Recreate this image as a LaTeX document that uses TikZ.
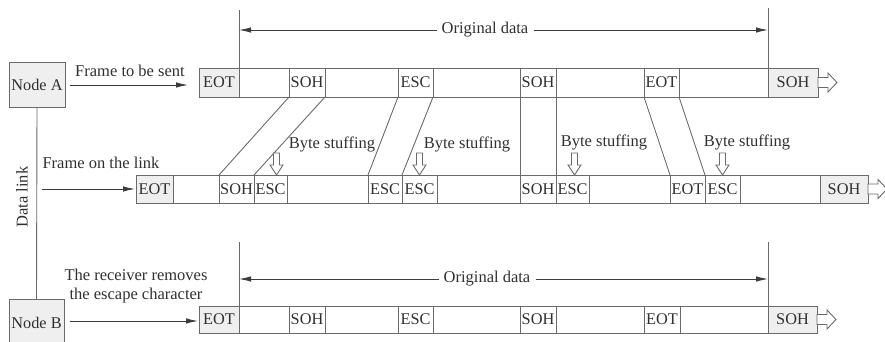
\documentclass[tikz,border=0pt]{standalone}
\usepackage{fontspec}
\setmainfont{Liberation Serif}
\usetikzlibrary{arrows.meta}
\definecolor{linec}{HTML}{6A6A6A}
\definecolor{txtc}{HTML}{303030}
\definecolor{gfill}{HTML}{EFEFEF}
\definecolor{arrc}{HTML}{303030}
\tikzset{
  lbl/.style={text=txtc, font=\fontsize{16.5}{19}\selectfont, inner sep=0pt},
  cell/.style={draw=linec, line width=0.9pt, fill=white, anchor=north west, outer sep=0pt, inner sep=0pt, text=txtc, font=\fontsize{16.3}{19}\selectfont},
  gcell/.style={fill=gfill},
  ln/.style={draw=linec, line width=0.9pt},
  arr/.style={draw=arrc!80!linec, line width=0.9pt, -{Latex[length=12pt,width=5.5pt]}},
  nodebox/.style={draw=linec, line width=0.9pt, fill=gfill, inner sep=0pt, text=txtc, font=\fontsize{16.3}{19}\selectfont},
  downar/.pic={\draw[draw=linec, line width=0.9pt, fill=white] (0,0) -- (-6.5pt,10pt) -- (-3pt,10pt) -- (-3pt,22pt) -- (3pt,22pt) -- (3pt,10pt) -- (6.5pt,10pt) -- cycle;},
  rightar/.pic={\draw[draw=linec, line width=0.9pt, fill=white] (0,5pt) -- (10pt,5pt) -- (10pt,9.5pt) -- (19pt,0) -- (10pt,-9.5pt) -- (10pt,-5pt) -- (0,-5pt) -- cycle;}
}
\begin{document}
\begin{tikzpicture}[x=1pt,y=-1pt]
\useasboundingbox (0,0) rectangle (885,342);

% Nodes A and B
\node[nodebox, minimum width=56pt, minimum height=45pt] (A) at (37,85) {Node A};
\node[nodebox, minimum width=55pt, minimum height=46pt, anchor=north] (B) at (36.5,299) {Node B};
\draw[ln] (A.south) -- (B.north);
\node[lbl, rotate=90] (dl) at (22,197) {Data link};

% Top row
\node[cell,gcell,minimum width=40pt,minimum height=29pt] (tEOT) at (199,68) {EOT};
\node[cell,minimum width=50pt,minimum height=29pt] (tB1) at (239,68) {};
\node[cell,minimum width=36pt,minimum height=29pt] (tSOH1) at (289,68) {SOH};
\node[cell,minimum width=73pt,minimum height=29pt] (tB2) at (325,68) {};
\node[cell,minimum width=35pt,minimum height=29pt] (tESC) at (398,68) {ESC};
\node[cell,minimum width=87pt,minimum height=29pt] (tB3) at (433,68) {};
\node[cell,minimum width=36pt,minimum height=29pt] (tSOH2) at (520,68) {SOH};
\node[cell,minimum width=88pt,minimum height=29pt] (tB4) at (556,68) {};
\node[cell,minimum width=35pt,minimum height=29pt] (tEOT2) at (644,68) {EOT};
\node[cell,minimum width=89pt,minimum height=29pt] (tB5) at (679,68) {};
\node[cell,gcell,minimum width=50pt,minimum height=29pt] (tSOH3) at (768,68) {SOH};
\pic at (tSOH3.east) {rightar};

% Middle row
\node[cell,gcell,minimum width=37pt,minimum height=28pt] (mEOT) at (136,175) {EOT};
\node[cell,minimum width=46pt,minimum height=28pt] (mB1) at (173,175) {};
\node[cell,minimum width=35pt,minimum height=28pt] (mSOH1) at (219,175) {SOH};
\node[cell,minimum width=33pt,minimum height=28pt] (mESC1) at (254,175) {ESC};
\node[cell,minimum width=81pt,minimum height=28pt] (mB2) at (287,175) {};
\node[cell,minimum width=34pt,minimum height=28pt] (mESC2) at (368,175) {ESC};
\node[cell,minimum width=35pt,minimum height=28pt] (mESC3) at (402,175) {ESC};
\node[cell,minimum width=83pt,minimum height=28pt] (mB3) at (437,175) {};
\node[cell,minimum width=36pt,minimum height=28pt] (mSOH2) at (520,175) {SOH};
\node[cell,minimum width=33pt,minimum height=28pt] (mESC4) at (556,175) {ESC};
\node[cell,minimum width=81pt,minimum height=28pt] (mB4) at (589,175) {};
\node[cell,minimum width=35pt,minimum height=28pt] (mEOT2) at (670,175) {EOT};
\node[cell,minimum width=35pt,minimum height=28pt] (mESC5) at (705,175) {ESC};
\node[cell,minimum width=80pt,minimum height=28pt] (mB5) at (740,175) {};
\node[cell,gcell,minimum width=48pt,minimum height=28pt] (mSOH3) at (820,175) {SOH};
\pic at (mSOH3.east) {rightar};

% Bottom row
\node[cell,gcell,minimum width=40pt,minimum height=27pt] (bEOT) at (199,306) {EOT};
\node[cell,minimum width=50pt,minimum height=27pt] (bB1) at (239,306) {};
\node[cell,minimum width=36pt,minimum height=27pt] (bSOH1) at (289,306) {SOH};
\node[cell,minimum width=73pt,minimum height=27pt] (bB2) at (325,306) {};
\node[cell,minimum width=35pt,minimum height=27pt] (bESC) at (398,306) {ESC};
\node[cell,minimum width=87pt,minimum height=27pt] (bB3) at (433,306) {};
\node[cell,minimum width=36pt,minimum height=27pt] (bSOH2) at (520,306) {SOH};
\node[cell,minimum width=88pt,minimum height=27pt] (bB4) at (556,306) {};
\node[cell,minimum width=36pt,minimum height=27pt] (bEOT2) at (644,306) {EOT};
\node[cell,minimum width=88pt,minimum height=27pt] (bB5) at (680,306) {};
\node[cell,gcell,minimum width=49pt,minimum height=27pt] (bSOH3) at (768,306) {SOH};
\pic at (bSOH3.east) {rightar};

% mapping lines
\draw[ln] (tSOH1.south west) -- (mSOH1.north west);
\draw[ln] (tSOH1.south east) -- (mSOH1.north east);
\draw[ln] (tESC.south west) -- (mESC2.north west);
\draw[ln] (tESC.south east) -- (mESC2.north east);
\draw[ln] (tSOH2.south west) -- (mSOH2.north west);
\draw[ln] (tSOH2.south east) -- (mSOH2.north east);
\draw[ln] (tEOT2.south west) -- (mEOT2.north west);
\draw[ln] (tEOT2.south east) -- (mEOT2.north east);

% byte stuffing
\node[lbl] (bs1) at (332,144) {Byte stuffing};
\node[lbl] (bs2) at (467,144) {Byte stuffing};
\node[lbl] (bs3) at (604,142) {Byte stuffing};
\node[lbl] (bs4) at (747,142) {Byte stuffing};
\pic at ([xshift=6pt]mESC1.north) {downar};
\pic at (mESC3.north) {downar};
\pic at ([xshift=2pt]mESC4.north) {downar};
\pic at (mESC5.north) {downar};

% Original data (top)
\coordinate (otl) at (239,10);
\coordinate (otr) at (768,8);
\draw[ln] (tB1.north west) -- (otl);
\draw[ln] (tSOH3.north west) -- (otr);
\node[lbl, inner xsep=5pt] (od1) at (485,30) {Original data};
\draw[arr] (od1.west) -- (od1.west -| tB1.north west);
\draw[arr] (od1.east) -- (od1.east -| tSOH3.north west);

% Original data (bottom)
\coordinate (obl) at (239,242);
\coordinate (obr) at (768,242);
\draw[ln] (bB1.north west) -- (obl);
\draw[ln] (bSOH3.north west) -- (obr);
\node[lbl, inner xsep=5pt] (od2) at (487,279) {Original data};
\draw[arr] (od2.west) -- (od2.west -| bB1.north west);
\draw[arr] (od2.east) -- (od2.east -| bSOH3.north west);

% input arrows and labels
\coordinate (aEnd) at (188,85);
\draw[arr] ([xshift=5pt]A.east) -- (aEnd);
\node[lbl] (fs) at (130,71) {Frame to be sent};

\coordinate (mStart) at (42,189);
\draw[arr] (mStart) -- ([xshift=-1pt]mEOT.west);
\node[lbl] (fl) at (101,163) {Frame on the link};

\coordinate (bEnd) at (198,321);
\draw[arr] ([xshift=6pt]B.east |- bEnd) -- (bEnd);
\node[lbl, align=center] (rr) at (136,286) {The receiver removes\\the escape character};
\end{tikzpicture}
\end{document}
